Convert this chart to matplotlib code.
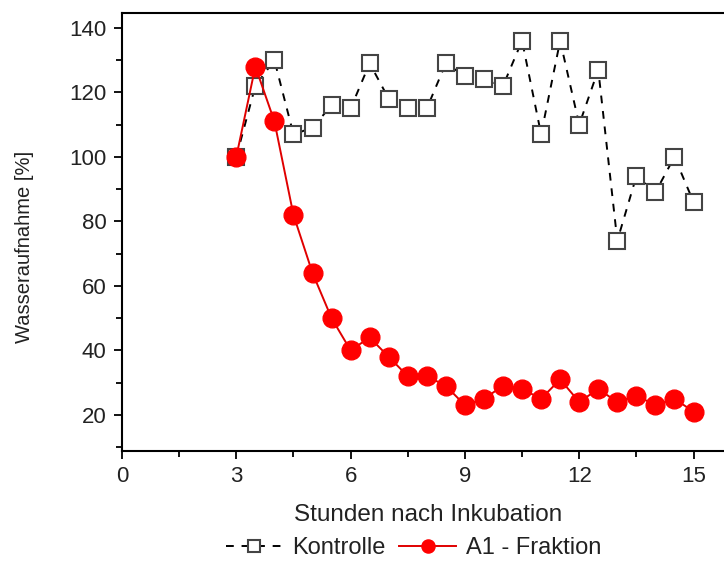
import matplotlib.pyplot as plt
from matplotlib.ticker import MultipleLocator

plt.rcParams['font.family'] = ['Liberation Sans', 'DejaVu Sans']

# Daten
stunden = [3, 3.5, 4, 4.5, 5, 5.5, 6, 6.5, 7, 7.5, 8, 8.5, 9, 9.5, 10,
           10.5, 11, 11.5, 12, 12.5, 13, 13.5, 14, 14.5, 15]
kontrolle = [100, 122, 130, 107, 109, 116, 115, 129, 118, 115, 115, 129, 125,
             124, 122, 136, 107, 136, 110, 127, 74, 94, 89, 100, 86]
a1_fraktion = [100, 128, 111, 82, 64, 50, 40, 44, 38, 32, 32, 29, 23, 25, 29,
               28, 25, 31, 24, 28, 24, 26, 23, 25, 21]

fig = plt.figure(figsize=(7.24, 5.62), dpi=100)
ax = fig.add_axes([0.1685, 0.1975, 0.8315, 0.7794])

ax.plot(stunden, kontrolle, ls=(0, (4, 4)), color='black', lw=1.4,
        marker='s', ms=12, mfc='white', mec='#444444', mew=1.5,
        label='Kontrolle', zorder=2)
ax.plot(stunden, a1_fraktion, ls='-', color='#e00000', lw=1.4,
        marker='o', ms=13.5, mfc='#ff0000', mec='#ff0000',
        label='A1 - Fraktion', zorder=3)

ax.set_xlim(0, 15.8)
ax.set_ylim(8.8, 144.6)
ax.xaxis.set_major_locator(MultipleLocator(3))
ax.xaxis.set_minor_locator(MultipleLocator(1.5))
ax.yaxis.set_major_locator(MultipleLocator(20))
ax.yaxis.set_minor_locator(MultipleLocator(10))
ax.tick_params(which='major', direction='out', length=6, width=1.3,
               labelsize=16, pad=5, labelcolor='#222222')
ax.tick_params(which='minor', direction='out', length=4, width=1.3)
ax.spines['right'].set_visible(False)
for s in ['left', 'top', 'bottom']:
    ax.spines[s].set_linewidth(1.5)

ax.set_xlabel('Stunden nach Inkubation', fontsize=17.5, color='#222222')
ax.xaxis.set_label_coords(0.508, -0.122)
ax.set_ylabel('Wasseraufnahme [%]', fontsize=14.5, color='#222222')
ax.yaxis.set_label_coords(-0.146, 0.466)

fig.legend(loc='center', bbox_to_anchor=(0.571, 0.025), ncol=2,
           frameon=False, fontsize=17, handlelength=2.4, columnspacing=0.6,
           handletextpad=0.4, markerscale=0.7, labelcolor='#222222',
           borderpad=0.1)

fig.savefig('out.png', dpi=100)
